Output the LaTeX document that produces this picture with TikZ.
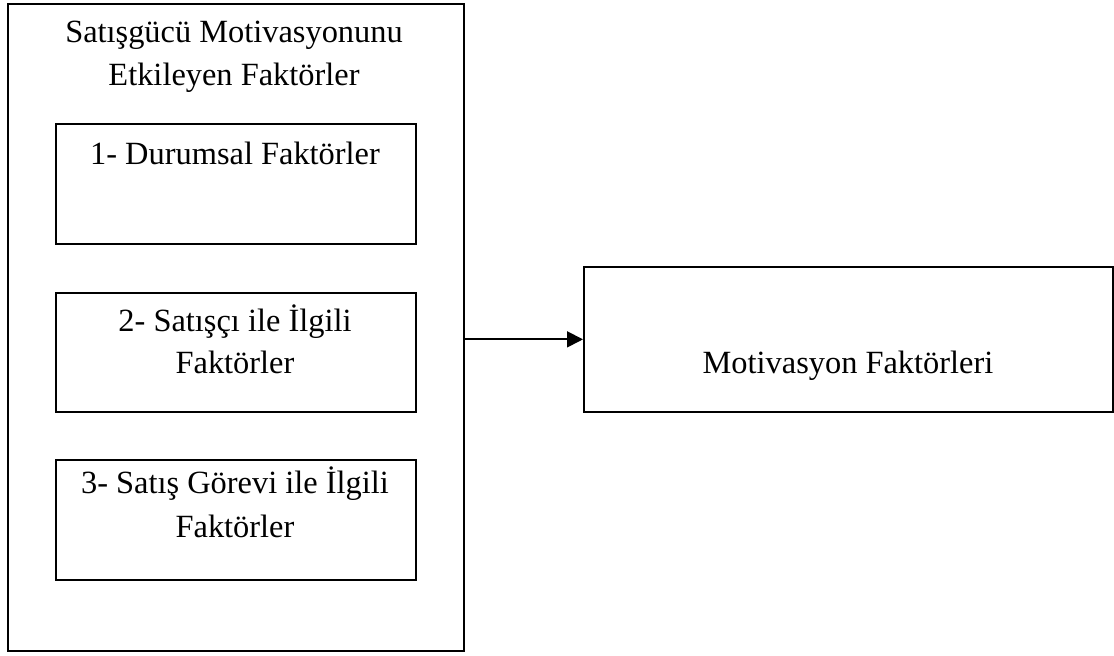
\documentclass[tikz,border=0pt]{standalone}
\usepackage{fontspec}
\setmainfont{Liberation Serif}
\usetikzlibrary{arrows.meta}
\begin{document}
\begin{tikzpicture}[x=0.5pt,y=-0.5pt,
  frame/.style={draw, line width=0.85pt, inner sep=0pt, anchor=north west},
  txt/.style={font=\fontsize{16.2}{21.5}\selectfont, anchor=base, inner sep=0pt},
  link/.style={line width=0.9pt, -{Triangle[length=8pt,width=8pt]}}]
\useasboundingbox (0,0) rectangle (1114,655);

% outer frame with its heading
\node[frame, minimum width=228pt, minimum height=323.5pt] (outer) at (7,3) {};
\node[txt] (title1) at (234,42) {Satışgücü Motivasyonunu};
\node[txt] (title2) at (234,85) {Etkileyen Faktörler};

% the three factor groups
\node[frame, minimum width=180pt, minimum height=60pt] (b1) at (55,123) {};
\node[txt] (b1t) at (235,164) {1- Durumsal Faktörler};

\node[frame, minimum width=180pt, minimum height=59.5pt] (b2) at (55,292) {};
\node[txt] (b2t1) at (235,331) {2- Satışçı ile İlgili};
\node[txt] (b2t2) at (235,373) {Faktörler};

\node[frame, minimum width=180pt, minimum height=60pt] (b3) at (55,459) {};
\node[txt] (b3t1) at (235,493) {3- Satış Görevi ile İlgili};
\node[txt] (b3t2) at (235,537) {Faktörler};

% result box
\node[frame, minimum width=264.5pt, minimum height=72.5pt] (motiv) at (583,266) {};
\node[txt] (motivt) at (848,373) {Motivasyon Faktörleri};

% connector
\draw[link] (outer.east |- motiv.west) -- (motiv.west);
\end{tikzpicture}
\end{document}
